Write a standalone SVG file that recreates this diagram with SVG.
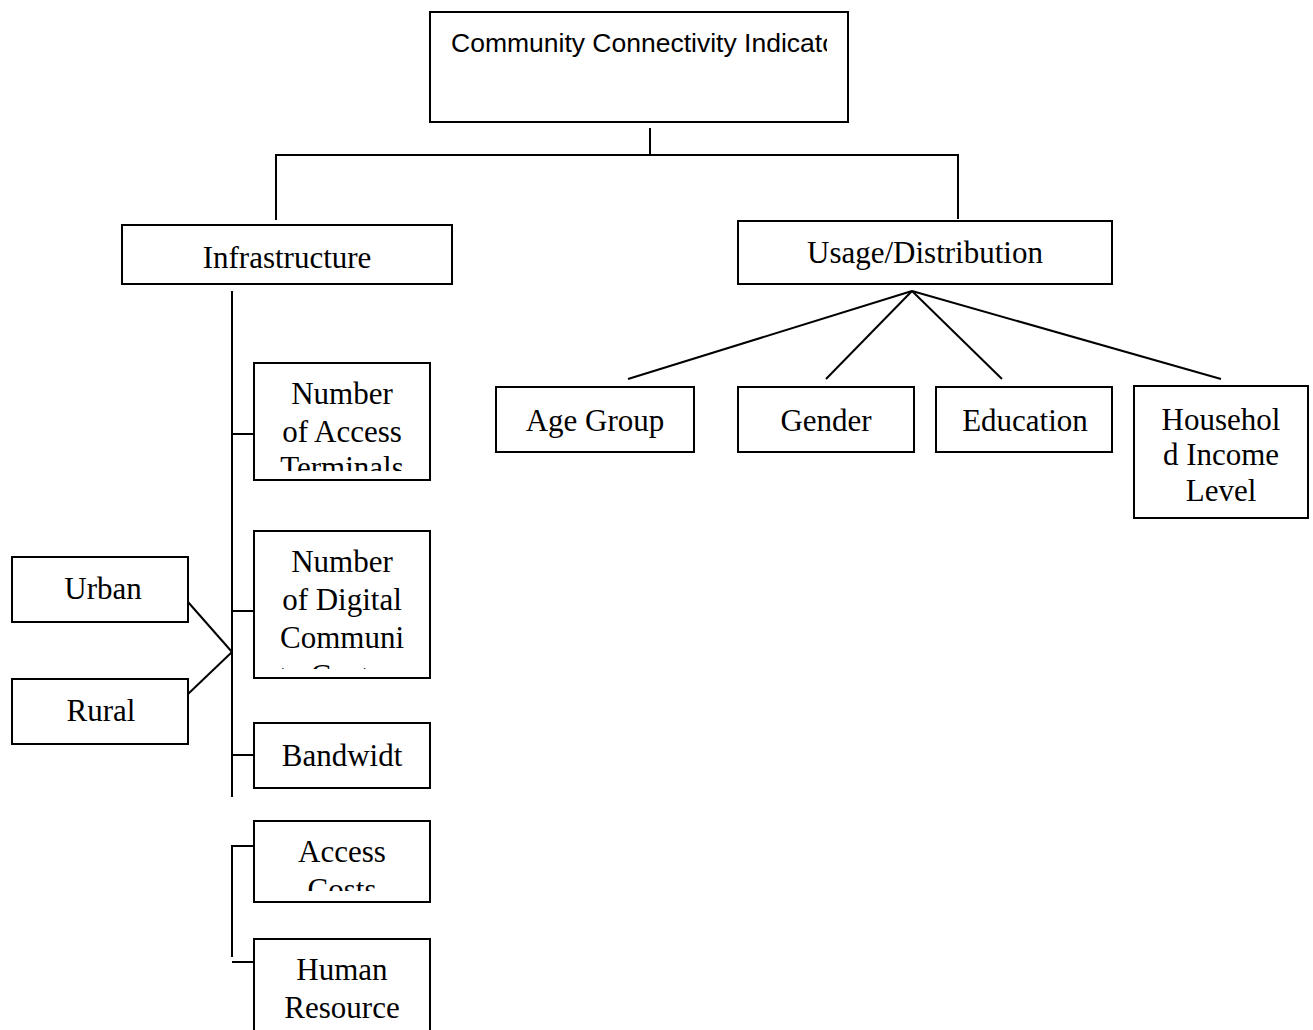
<svg xmlns="http://www.w3.org/2000/svg" width="1313" height="1030" viewBox="0 0 1313 1030">
<style>
.box{fill:#fff;stroke:#000;stroke-width:2}
.t{font-family:"Liberation Serif","Times New Roman",serif;font-size:31px;fill:#000;text-anchor:middle}
.a{font-family:"Liberation Sans",Arial,sans-serif;font-size:26.5px;fill:#000}
.c{fill:none;stroke:#000;stroke-width:2}
</style>
<defs>
<clipPath id="cTop"><rect x="430" y="12" width="397" height="110"/></clipPath>
<clipPath id="cNAT"><rect x="254" y="363" width="176" height="108"/></clipPath>
<clipPath id="cNDC"><rect x="254" y="531" width="176" height="138"/></clipPath>
<clipPath id="cAC"><rect x="254" y="821" width="176" height="70"/></clipPath>
</defs>
<rect width="1313" height="1030" fill="#fff"/>
<g id="connectors">
<line class="c" x1="650" y1="128" x2="650" y2="154"/>
<polyline class="c" points="276,220 276,155 958,155 958,219"/>
<line class="c" x1="232" y1="291" x2="232" y2="797"/>
<line class="c" x1="232" y1="434" x2="254" y2="434"/>
<line class="c" x1="232" y1="611" x2="254" y2="611"/>
<line class="c" x1="232" y1="755" x2="254" y2="755"/>
<line class="c" x1="188" y1="602" x2="232" y2="652"/>
<line class="c" x1="188" y1="694" x2="232" y2="652"/>
<polyline class="c" points="254,846 232,846 232,957"/>
<line class="c" x1="232" y1="962" x2="254" y2="962"/>
<line class="c" x1="912" y1="291" x2="628" y2="379"/>
<line class="c" x1="912" y1="291" x2="826" y2="379"/>
<line class="c" x1="912" y1="291" x2="1002" y2="379"/>
<line class="c" x1="912" y1="291" x2="1221" y2="379"/>
</g>
<g id="root">
<rect class="box" x="430" y="12" width="418" height="110"/>
<text class="a" x="451" y="52" clip-path="url(#cTop)">Community Connectivity Indicators</text>
</g>
<g id="infrastructure">
<rect class="box" x="122" y="225" width="330" height="59"/>
<text class="t" x="287" y="268">Infrastructure</text>
</g>
<g id="usage">
<rect class="box" x="738" y="221" width="374" height="63"/>
<text class="t" x="925" y="263">Usage/Distribution</text>
</g>
<g id="agegroup">
<rect class="box" x="496" y="387" width="198" height="65"/>
<text class="t" x="595" y="431">Age Group</text>
</g>
<g id="gender">
<rect class="box" x="738" y="387" width="176" height="65"/>
<text class="t" x="826" y="431">Gender</text>
</g>
<g id="education">
<rect class="box" x="936" y="387" width="176" height="65"/>
<text class="t" x="1025" y="431">Education</text>
</g>
<g id="household">
<rect class="box" x="1134" y="386" width="174" height="132"/>
<text class="t" x="1221" y="430">Househol</text>
<text class="t" x="1221" y="465">d Income</text>
<text class="t" x="1221" y="501">Level</text>
</g>
<g id="accessterminals">
<rect class="box" x="254" y="363" width="176" height="117"/>
<g clip-path="url(#cNAT)">
<text class="t" x="342" y="404">Number</text>
<text class="t" x="342" y="442">of Access</text>
<text class="t" x="342" y="478">Terminals</text>
</g>
</g>
<g id="digitalcenters">
<rect class="box" x="254" y="531" width="176" height="147"/>
<g clip-path="url(#cNDC)">
<text class="t" x="342" y="572">Number</text>
<text class="t" x="342" y="610">of Digital</text>
<text class="t" x="342" y="648">Communi</text>
<text class="t" x="342" y="686">ty Centers</text>
</g>
</g>
<g id="urban">
<rect class="box" x="12" y="557" width="176" height="65"/>
<text class="t" x="103" y="599">Urban</text>
</g>
<g id="rural">
<rect class="box" x="12" y="679" width="176" height="65"/>
<text class="t" x="101" y="721">Rural</text>
</g>
<g id="bandwidth">
<rect class="box" x="254" y="723" width="176" height="65"/>
<text class="t" x="342" y="766">Bandwidt</text>
</g>
<g id="accesscosts">
<rect class="box" x="254" y="821" width="176" height="81"/>
<g clip-path="url(#cAC)">
<text class="t" x="342" y="862">Access</text>
<text class="t" x="342" y="900">Costs</text>
</g>
</g>
<g id="humanresource">
<rect class="box" x="254" y="939" width="176" height="100"/>
<text class="t" x="342" y="980">Human</text>
<text class="t" x="342" y="1018">Resource</text>
</g>
</svg>
